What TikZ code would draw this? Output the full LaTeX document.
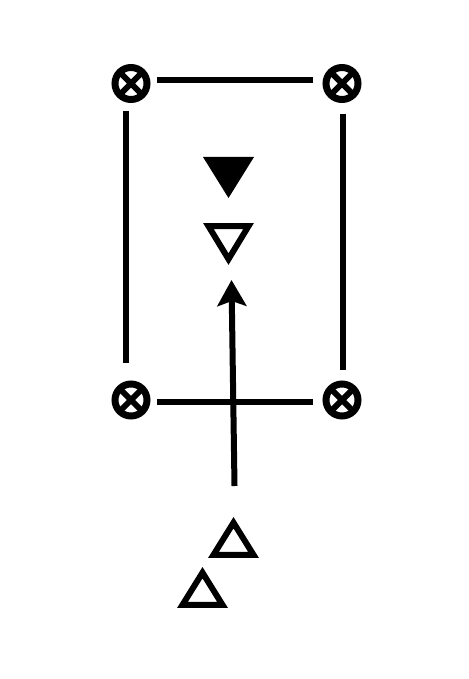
\documentclass[tikz,border=0pt]{standalone}
\usetikzlibrary{calc,arrows.meta}
\begin{document}
\begin{tikzpicture}[x=1pt,y=-1pt,
  otimes/.style={circle,draw,line width=7pt,minimum size=32pt,inner sep=0pt,
    path picture={\draw[line width=6pt]
      (path picture bounding box.north west)--(path picture bounding box.south east)
      (path picture bounding box.north east)--(path picture bounding box.south west);}},
  bar/.style={line width=6pt},
  tri/.style={line width=6pt,line join=miter,miter limit=10}]
\useasboundingbox (0,0) rectangle (468,679);
\node[otimes] (tl) at (131,83.5) {};
\node[otimes] (tr) at (342,83.5) {};
\node[otimes] (bl) at (131,400) {};
\node[otimes] (br) at (342,400) {};
% frame lines
\coordinate (t1) at (157,80.5); \coordinate (t2) at (313,80.5);
\coordinate (b1) at (157,402); \coordinate (b2) at (313,402);
\coordinate (l1) at (125.5,111); \coordinate (l2) at (125.5,363);
\coordinate (r1) at (343,114); \coordinate (r2) at (343,370);
\draw[bar] (t1) -- (t2);
\draw[bar] (b1) -- (b2);
\draw[bar] (l1) -- (l2);
\draw[bar] (r1) -- (r2);
% arrow
\coordinate (a0) at (234.5,486);
\coordinate (a1) at (231.5,280);
\draw[line width=6pt,-{Stealth[width=29pt,length=26pt,inset=5pt]}] (a0) -- (a1);
% filled triangle
\fill (203,157) -- (254,157) -- (228.5,198) -- cycle;
% outline triangles (path inset from outer boundary about incenter)
\def\k{0.788}
\coordinate (c1) at (228.5,237.2);
\draw[tri] ($(c1)!\k!(203,223)$) -- ($(c1)!\k!(254,223)$) -- ($(c1)!\k!(228.5,265)$) -- cycle;
\coordinate (c2) at (233.5,543.8);
\draw[tri] ($(c2)!\k!(208,558)$) -- ($(c2)!\k!(259,558)$) -- ($(c2)!\k!(233.5,517)$) -- cycle;
\coordinate (c3) at (202.5,593.8);
\draw[tri] ($(c3)!\k!(177,608)$) -- ($(c3)!\k!(228,608)$) -- ($(c3)!\k!(202.5,567)$) -- cycle;
\end{tikzpicture}
\end{document}
